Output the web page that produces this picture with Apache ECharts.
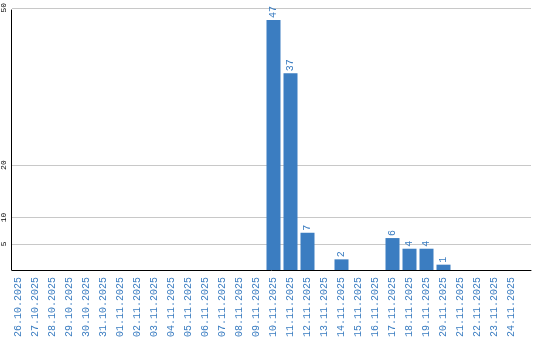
<!DOCTYPE html>
<html><head><meta charset="utf-8">
<script src="https://cdn.jsdelivr.net/npm/echarts@6/dist/echarts.min.js"></script>
<style>html,body{margin:0;padding:0;background:#fff}#c{width:540px;height:340px}</style>
</head><body><div id="c"></div>
<script>
const categories = ['26.10.2025','27.10.2025','28.10.2025','29.10.2025','30.10.2025','31.10.2025','01.11.2025','02.11.2025','03.11.2025','04.11.2025','05.11.2025','06.11.2025','07.11.2025','08.11.2025','09.11.2025','10.11.2025','11.11.2025','12.11.2025','13.11.2025','14.11.2025','15.11.2025','16.11.2025','17.11.2025','18.11.2025','19.11.2025','20.11.2025','21.11.2025','22.11.2025','23.11.2025','24.11.2025'];
const values = [0,0,0,0,0,0,0,0,0,0,0,0,0,0,0,47,37,7,0,2,0,0,6,4,4,1,0,0,0,0];
const yTickLabels = [5,10,20,50];

const blue = '#3b7dc1';
const font = 'Liberation Mono';
const gridColors = [];
for (let v = 0; v <= 50; v += 5) gridColors.push(yTickLabels.indexOf(v) >= 0 ? '#c8c8c8' : 'rgba(0,0,0,0)');

const chart = echarts.init(document.getElementById('c'), null, {renderer:'canvas'});
chart.setOption({
  animation: false,
  grid: [
    {left: 11, right: 9, top: 4, bottom: 70},
    {left: 11, right: 9, top: 10, bottom: 70},
    {left: 10, right: 20, top: 4, bottom: 70}
  ],
  xAxis: [
    {gridIndex: 0, type: 'value', min: 0, max: 1, axisLine: {show: true, onZero: false, lineStyle: {color: '#000', width: 1}},
      axisLabel: {show: false}, axisTick: {show: false}, splitLine: {show: false}},
    {gridIndex: 1, type: 'value', min: 0, max: 1, show: false},
    {gridIndex: 2, type: 'category', data: categories,
      axisLine: {show: false}, axisTick: {show: false},
      axisLabel: {rotate: 90, interval: 0, margin: 7, color: blue, fontFamily: font, fontSize: 10}}
  ],
  yAxis: [
    {gridIndex: 0, type: 'value', min: 0, max: 50, interval: 5,
      axisLine: {show: false}, axisTick: {show: false},
      splitLine: {show: true, lineStyle: {color: gridColors, width: 1}},
      axisLabel: {rotate: 90, margin: 4, color: '#000', fontFamily: font, fontSize: 8,
        formatter: v => yTickLabels.indexOf(v) >= 0 ? String(v) : ''}},
    {gridIndex: 1, type: 'value', min: 0, max: 1,
      axisLine: {show: true, onZero: false, lineStyle: {color: '#000', width: 1}},
      axisTick: {show: false}, axisLabel: {show: false}, splitLine: {show: false}},
    {gridIndex: 2, type: 'value', min: 0, max: 50, show: false, splitLine: {show: false}}
  ],
  series: [{
    type: 'bar', xAxisIndex: 2, yAxisIndex: 2, data: values, barWidth: 14,
    itemStyle: {color: blue},
    label: {show: true, position: 'top', rotate: 90, align: 'left', verticalAlign: 'middle', distance: 2,
      color: blue, fontFamily: font, fontSize: 10,
      formatter: p => p.value ? String(p.value) : ''}
  }]
});
</script></body></html>
